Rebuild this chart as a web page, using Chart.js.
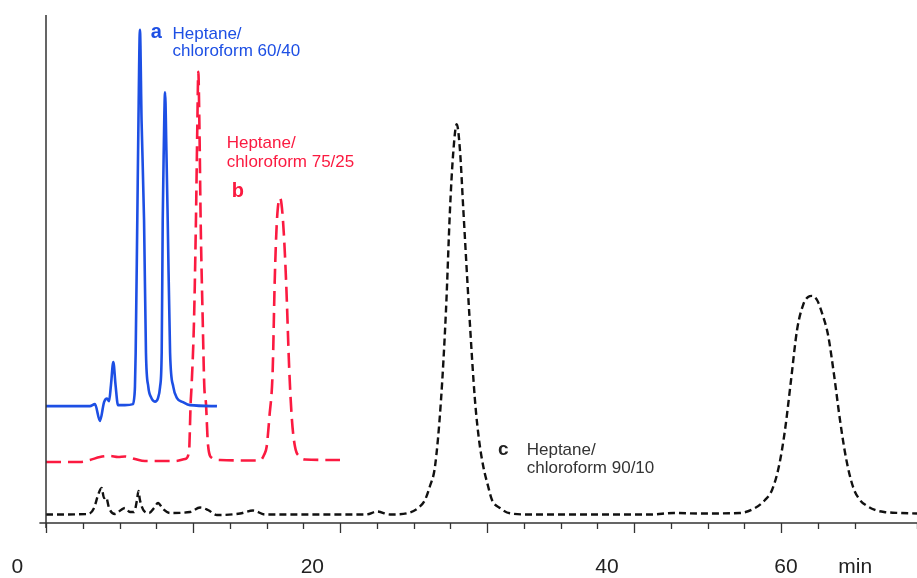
<!DOCTYPE html>
<html>
<head>
<meta charset="utf-8">
<script src="https://cdn.jsdelivr.net/npm/chart.js@4.4.1/dist/chart.umd.min.js"></script>
<style>
  html, body { margin: 0; padding: 0; background: #fff; }
  canvas { display: block; }
</style>
</head>
<body>
<canvas id="chrom" width="917" height="578"></canvas>
<script>
// run a: heptane/chloroform 60/40 (solid blue)
const aTime = [0, 2.99, 3.33, 3.67, 3.95, 4.15, 4.29, 4.42, 4.58, 4.73, 4.90, 5.37, 5.92, 6.02, 6.05, 6.10, 6.21, 6.29, 6.39, 6.50, 6.67, 6.80, 6.96, 7.14, 7.41, 7.62, 7.76, 7.87, 7.94, 8.01, 8.10, 8.19, 8.28, 8.44, 8.66, 8.91, 9.32, 9.80, 11.63];
const aSignal = [23.0, 23.0, 23.4, 20.1, 23.8, 24.5, 24.0, 27.2, 31.7, 27.2, 23.2, 23.2, 23.4, 25.2, 26.8, 33.5, 59.6, 79.3, 97.1, 79.3, 59.6, 33.5, 26.8, 24.8, 23.9, 24.6, 26.8, 33.5, 59.6, 73.4, 84.8, 73.4, 59.6, 33.5, 26.8, 24.6, 23.8, 23.2, 23.0];

// run b: heptane/chloroform 75/25 (red dashes)
const bTime = [0, 2.31, 2.99, 3.67, 4.35, 4.90, 5.37, 6.05, 6.73, 8.78, 9.46, 9.73, 9.84, 9.90, 10.07, 10.20, 10.29, 10.36, 10.44, 10.52, 10.66, 10.77, 10.88, 11.02, 11.29, 11.84, 14.56, 14.83, 15.01, 15.20, 15.42, 15.56, 15.71, 15.92, 16.12, 16.33, 16.55, 16.73, 16.94, 17.28, 17.62, 20.0];
const bSignal = [12.0, 12.0, 12.4, 13.0, 13.2, 13.0, 13.1, 12.6, 12.2, 12.2, 12.6, 14.0, 23.6, 26.8, 40.0, 59.6, 77.4, 88.8, 77.4, 59.6, 40.0, 26.8, 23.6, 15.4, 12.8, 12.4, 12.3, 13.4, 15.0, 21.0, 30.0, 47.8, 59.6, 64.0, 59.6, 47.8, 30.0, 20.3, 15.0, 13.0, 12.5, 12.4];

// run c: heptane/chloroform 90/10 (black dashes)
const cTime = [0, 2.86, 3.27, 3.54, 3.78, 3.95, 4.08, 4.29, 4.69, 5.10, 5.37, 5.71, 5.99, 6.19, 6.29, 6.39, 6.67, 7.01, 7.35, 7.62, 7.96, 8.44, 9.80, 10.48, 11.02, 11.63, 13.20, 14.08, 14.90, 21.77, 22.52, 23.40, 24.54, 25.31, 25.78, 26.12, 26.46, 26.87, 27.21, 27.48, 27.69, 27.94, 28.16, 28.39, 28.78, 29.18, 29.46, 29.75, 30.07, 30.34, 30.88, 31.56, 32.93, 41.09, 42.72, 44.49, 47.21, 48.23, 48.91, 49.39, 49.86, 50.27, 50.68, 51.09, 51.50, 51.84, 52.11, 52.45, 52.79, 53.20, 53.61, 54.01, 54.42, 54.90, 55.37, 55.85, 56.39, 57.01, 58.10, 59.25];
const cSignal = [1.67, 1.77, 2.95, 5.51, 6.89, 4.92, 5.12, 2.95, 1.77, 2.56, 2.95, 2.17, 2.17, 4.53, 6.30, 4.53, 2.36, 1.97, 2.95, 3.94, 2.76, 1.97, 2.17, 3.05, 2.56, 1.57, 1.87, 2.46, 1.67, 1.67, 2.26, 1.67, 1.91, 2.95, 4.53, 7.28, 11.08, 24.2, 41.9, 61.6, 72.4, 78.5, 73.4, 61.6, 41.9, 24.2, 16.3, 11.08, 7.28, 4.53, 2.95, 1.91, 1.67, 1.67, 1.97, 1.87, 1.97, 2.95, 4.53, 6.50, 11.2, 18.3, 28.1, 38.0, 42.9, 44.5, 44.7, 43.9, 41.3, 37.0, 29.1, 20.3, 12.8, 7.09, 4.53, 3.35, 2.56, 2.17, 1.97, 1.87];

// axis labels as printed in the figure (they sit off the tick marks)
const tickLabels = ['0', '20', '40', '60', 'min'];
const tickLabelAt = [-1.95, 18.12, 38.16, 50.34, 55.05];

// the text notes next to the traces
const noteText = ['a', 'Heptane/', 'chloroform 60/40', 'Heptane/', 'chloroform 75/25', 'b', 'c', 'Heptane/', 'chloroform 90/10'];
const noteTime = [7.12, 8.61, 8.61, 12.29, 12.29, 12.63, 30.75, 32.70, 32.70];
const noteSignal = [95.47, 95.37, 92.0, 73.76, 70.14, 64.23, 13.39, 13.39, 9.90];

const BLUE = '#1d4fe4';
const RED = '#fb1a40';
const BLACK = '#111111';
const noteColor = [BLUE, BLUE, BLUE, RED, RED, RED, '#222', '#333', '#333'];
const noteFont = ['bold 20px', '17px', '17px', '17px', '17px', 'bold 20px', 'bold 19px', '17px', '17px'];

const FONT = '"Liberation Sans", Arial, sans-serif';
Chart.defaults.font.family = FONT;

function toPoints(xs, ys) {
    return xs.map((x, i) => ({ x: x, y: ys[i] }));
}

// axis lines, tick marks, tick labels and notes
const decorPlugin = {
    id: 'decor',
    afterDraw(chart) {
        const ctx = chart.ctx;
        const xs = chart.scales.x;
        const ys = chart.scales.y;
        const axisY = xs.top;
        ctx.save();

        // axes
        ctx.strokeStyle = '#333';
        ctx.lineWidth = 1.5;
        ctx.beginPath();
        ctx.moveTo(xs.getPixelForValue(-0.45), axisY);
        ctx.lineTo(xs.right, axisY);
        ctx.moveTo(ys.right, ys.top);
        ctx.lineTo(ys.right, axisY + 5);
        ctx.stroke();

        // tick marks, longer every 10 units
        ctx.lineWidth = 1.3;
        ctx.beginPath();
        xs.ticks.forEach(t => {
            const px = Math.round(xs.getPixelForValue(t.value)) + 0.5;
            const len = (Math.abs(t.value % 10) < 1e-6) ? 10 : 6;
            ctx.moveTo(px, axisY);
            ctx.lineTo(px, axisY + len);
        });
        ctx.stroke();

        // tick labels
        ctx.fillStyle = '#222';
        ctx.font = '21px ' + FONT;
        ctx.textAlign = 'center';
        ctx.textBaseline = 'alphabetic';
        tickLabels.forEach((lab, i) => {
            ctx.fillText(lab, xs.getPixelForValue(tickLabelAt[i]), axisY + 50);
        });

        // notes
        ctx.textAlign = 'left';
        noteText.forEach((txt, i) => {
            ctx.fillStyle = noteColor[i];
            ctx.font = noteFont[i] + ' ' + FONT;
            ctx.fillText(txt, xs.getPixelForValue(noteTime[i]), ys.getPixelForValue(noteSignal[i]));
        });
        ctx.restore();
    }
};

const chart = new Chart(document.getElementById('chrom'), {
    type: 'line',
    data: {
        datasets: [
            {
                label: 'a',
                data: toPoints(aTime, aSignal),
                borderColor: BLUE,
                borderWidth: 2.6,
                order: 0
            },
            {
                label: 'b',
                data: toPoints(bTime, bSignal),
                borderColor: RED,
                borderWidth: 2.6,
                borderDash: [15, 7],
                order: 1
            },
            {
                label: 'c',
                data: toPoints(cTime, cSignal),
                borderColor: BLACK,
                borderWidth: 2.4,
                borderDash: [7, 4],
                order: 2
            }
        ]
    },
    options: {
        responsive: false,
        animation: false,
        devicePixelRatio: 1,
        layout: { padding: { top: 15, right: 0, bottom: 0, left: 0 } },
        datasets: {
            line: {
                pointRadius: 0,
                fill: false,
                cubicInterpolationMode: 'monotone',
                borderCapStyle: 'butt',
                borderJoinStyle: 'round'
            }
        },
        plugins: {
            legend: { display: false },
            tooltip: { enabled: false }
        },
        scales: {
            x: {
                type: 'linear',
                min: 0,
                max: 59.25,
                grid: { display: false },
                border: { display: false },
                ticks: { display: false, stepSize: 2.5, autoSkip: false },
                afterFit: s => { s.height = 55; }
            },
            y: {
                min: 0,
                max: 100,
                grid: { display: false },
                border: { display: false },
                ticks: { display: false },
                afterFit: s => { s.width = 46; }
            }
        }
    },
    plugins: [decorPlugin]
});
</script>
</body>
</html>
